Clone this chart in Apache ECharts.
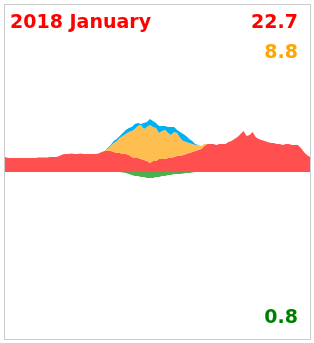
<!DOCTYPE html>
<html>
<head>
<meta charset="utf-8">
<script src="https://cdn.jsdelivr.net/npm/echarts@6/dist/echarts.min.js"></script>
<style>
html,body{margin:0;padding:0;background:#fff;}
#box{position:absolute;left:4px;top:4px;width:305px;height:334px;border:1px solid #ccc;}
#chart{width:305px;height:334px;}
</style>
</head>
<body>
<div id="box"><div id="chart"></div></div>
<script>
// Daily profile samples across January 2018 (102 samples)
const red = [15,14,14,14,14,14,14,14,14,14,14,14.5,14.5,14.5,14.5,15,15,15,16,17.5,
18,18,18.5,18,18,18.5,18,18,18,18,18,18.5,20,21,21,21,20,19,19,18,
18,17,15,14,14,13,12,11,9,11,11,13,13,13,14,14,15,16,16,17,
18,19,20,21,22,23,26,28,28,28,27,28,28,28,30,31,33,35,38,41,
36,37,40,35,33,32,31,30,29,29,28,28,27,28,28,27,27,27,24,20,
17,15];
const orange = [0,0,0,0,0,0,0,0,0,0,0,0,0,0,0,0,0,0,0,0,
0,0,0,0,0,0,0,0,0,0,0,0,0,0,2,5,9,12,15,18,
20,23,26,29,32,34,31,34,38,34,33,26,28,29,25,23,25,23,18,14,
12,10,8,6,5,3,2,0,0,0,0,0,0,0,0,0,0,0,0,0,
0,0,0,0,0,0,0,0,0,0,0,0,0,0,0,0,0,0,0,0,
0,0];
const blue = [0,0,0,0,0,0,0,0,0,0,0,0,0,0,0,0,0,0,0,0,
0,0,0,0,0,0,0,0,0,0,0,0,0,0,1,1,2,2,2,3,
4,4,4,5,3,1,6,5,6,6,5,7,5,4,6,8,5,3,6,7,
6,4,3,1,0,0,0,0,0,0,0,0,0,0,0,0,0,0,0,0,
0,0,0,0,0,0,0,0,0,0,0,0,0,0,0,0,0,0,0,0,
0,0];
const green = [0,0,0,0,0,0,0,0,0,0,0,0,0,0,0,0,0,0,0,0,
0,0,0,0,0,0,0,0,0,0,0,0,0,0,0,0,0,0,0,-0.5,
-1,-2,-3,-4,-4,-5,-5,-6,-6,-6,-5,-5,-4,-4,-3,-3,-2,-2,-2,-1.5,
-1,-1,-0.5,0,0,0,0,0,0,0,0,0,0,0,0,0,0,0,0,0,
0,0,0,0,0,0,0,0,0,0,0,0,0,0,0,0,0,0,0,0,
0,0];
const categories = red.map((_, i) => i);
const titleText = '2018 January';
const redLabel = '22.7';
const orangeLabel = '8.8';
const greenLabel = '0.8';

const chart = echarts.init(document.getElementById('chart'));
function area(name, data, color, stack) {
  return {
    name, type: 'line', data, stack, showSymbol: false, symbol: 'none',
    lineStyle: {width: 0}, areaStyle: {color, opacity: 1}, silent: true,
    animation: false
  };
}
const font = 'bold 19px "DejaVu Sans"';
chart.setOption({
  animation: false,
  grid: {left: 0, right: 0, top: 0, bottom: 0},
  xAxis: {type: 'category', data: categories, boundaryGap: false, show: false},
  yAxis: {type: 'value', min: -167, max: 167, show: false},
  series: [
    area('red', red, '#ff4f4f', 'pos'),
    area('orange', orange, '#ffbf50', 'pos'),
    area('blue', blue, '#00b0f0', 'pos'),
    area('green', green, '#4caf50', 'neg')
  ],
  graphic: [
    {type: 'text', left: 5, top: 9, style: {text: titleText, fill: '#ff0000', font}},
    {type: 'text', right: 12, top: 9, style: {text: redLabel, fill: '#ff0000', font}},
    {type: 'text', right: 12, top: 39, style: {text: orangeLabel, fill: '#ffa500', font}},
    {type: 'text', right: 12, top: 304, style: {text: greenLabel, fill: '#008000', font}}
  ]
});
</script>
</body>
</html>
